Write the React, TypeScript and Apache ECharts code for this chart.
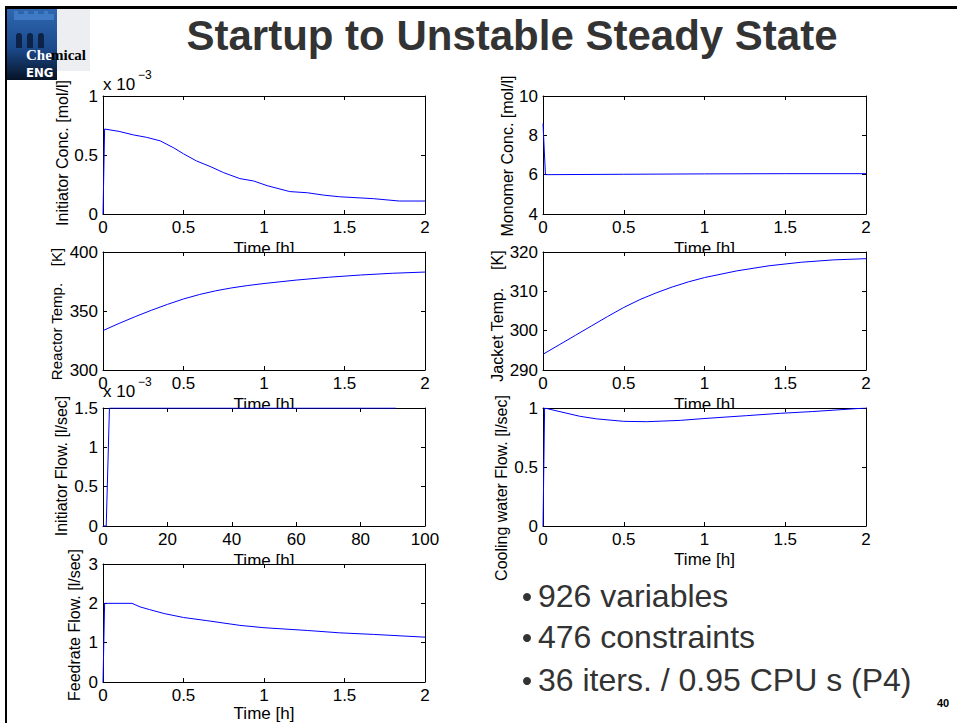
import React, { useEffect, useRef } from "react";
import * as echarts from "echarts";

const FONT = '"Liberation Sans", Arial, Helvetica, sans-serif';
const SERIF = '"Liberation Serif", "DejaVu Serif", serif';
const LINE = "#0000ff";

// ---- data ----
// Panel 1: Initiator Conc. [mol/l] (x 10^-3)
const initConcTime = [0, 0.01, 0.1, 0.19, 0.27, 0.355, 0.44, 0.5, 0.58, 0.67, 0.75, 0.85, 0.935, 1.02, 1.16, 1.27, 1.37, 1.47, 1.68, 1.84, 2.0];
const initConcValues = [0, 0.72, 0.7, 0.67, 0.65, 0.62, 0.56, 0.51, 0.45, 0.4, 0.35, 0.3, 0.28, 0.24, 0.19, 0.18, 0.16, 0.146, 0.13, 0.11, 0.11];

// Panel 2: Monomer Conc. [mol/l]
const monoTime = [0, 0.015, 0.5, 1.0, 1.5, 2.0];
const monoValues = [8.6, 6.0, 6.02, 6.04, 6.05, 6.05];

// Panel 3: Reactor Temp. [K]
const reactorTime = [0, 0.1, 0.2, 0.3, 0.4, 0.5, 0.6, 0.7, 0.8, 0.9, 1.0, 1.2, 1.4, 1.6, 1.8, 2.0];
const reactorValues = [333.4, 339.5, 345.2, 350.6, 355.6, 360.2, 364.0, 367.1, 369.6, 371.6, 373.3, 376.2, 378.6, 380.5, 382.0, 383.0];

// Panel 4: Jacket Temp. [K]
const jacketTime = [0, 0.1, 0.2, 0.3, 0.4, 0.5, 0.6, 0.7, 0.8, 0.9, 1.0, 1.2, 1.4, 1.6, 1.8, 2.0];
const jacketValues = [294.0, 296.4, 298.8, 301.2, 303.6, 305.9, 307.9, 309.6, 311.1, 312.4, 313.5, 315.2, 316.5, 317.4, 318.0, 318.3];

// Panel 5: Initiator Flow. [l/sec] (x 10^-3)
const initFlowTime = [0, 1, 2, 91];
const initFlowValues = [0, 0, 1.5, 1.5];

// Panel 6: Cooling water Flow. [l/sec]
const coolTime = [0, 0.01, 0.124, 0.227, 0.33, 0.5, 0.64, 0.85, 0.99, 1.26, 1.47, 1.67, 2.0];
const coolValues = [0, 1.0, 0.963, 0.93, 0.908, 0.887, 0.884, 0.895, 0.91, 0.935, 0.955, 0.97, 1.0];

// Panel 7: Feedrate Flow. [l/sec]
const feedTime = [0, 0.01, 0.18, 0.23, 0.29, 0.38, 0.5, 0.645, 0.85, 1.0, 1.27, 1.47, 1.68, 2.0];
const feedValues = [0, 2.0, 2.0, 1.91, 1.84, 1.74, 1.64, 1.56, 1.44, 1.38, 1.31, 1.25, 1.21, 1.14];

// axis ranges [min, max, interval]
const timeAxis = [0, 2, 0.5];
const initFlowTimeAxis = [0, 100, 20];
const initConcAxis = [0, 1, 0.5];
const monoAxis = [4, 10, 2];
const reactorAxis = [300, 400, 50];
const jacketAxis = [290, 320, 10];
const initFlowAxis = [0, 1.5, 0.5];
const coolAxis = [0, 1, 0.5];
const feedAxis = [0, 3, 1];

const bullets = ["926 variables", "476 constraints", "36 iters. / 0.95 CPU s (P4)"];
const title = "Startup to Unstable Steady State";
const xName = "Time [h]";

const zip = (xs: number[], ys: number[]) => xs.map((x, i) => [x, ys[i]]);

type Panel = {
  left: number; top: number; width: number; height: number;
  x: number[]; y: number[]; data: number[][];
  yLabel: string; yLabelX: number; yLabelY: number; yLabelSize: number;
  exp?: { x: number; y: number };
  clip: boolean;
  nameGap: number;
};

const LX = 103, RX = 543, LW = 322, RW = 323, H = 118;
const panels: Panel[] = [
  { left: LX, top: 96, width: LW, height: H, x: timeAxis, y: initConcAxis, data: zip(initConcTime, initConcValues), yLabel: "Initiator Conc. [mol/l]", yLabelX: 62, yLabelY: 153, yLabelSize: 16, exp: { x: 103, y: 84 }, clip: false, nameGap: 34 },
  { left: RX, top: 96, width: RW, height: H, x: timeAxis, y: monoAxis, data: zip(monoTime, monoValues), yLabel: "Monomer Conc. [mol/l]", yLabelX: 507, yLabelY: 156, yLabelSize: 16, clip: false, nameGap: 34 },
  { left: LX, top: 252, width: LW, height: H, x: timeAxis, y: reactorAxis, data: zip(reactorTime, reactorValues), yLabel: "Reactor Temp.    [K]", yLabelX: 56, yLabelY: 314, yLabelSize: 15, clip: true, nameGap: 34 },
  { left: RX, top: 252, width: RW, height: H, x: timeAxis, y: jacketAxis, data: zip(jacketTime, jacketValues), yLabel: "Jacket Temp.    [K]", yLabelX: 497, yLabelY: 316, yLabelSize: 16, clip: true, nameGap: 34 },
  { left: LX, top: 408, width: LW, height: H, x: initFlowTimeAxis, y: initFlowAxis, data: zip(initFlowTime, initFlowValues), yLabel: "Initiator Flow. [l/sec]", yLabelX: 61, yLabelY: 466, yLabelSize: 16, exp: { x: 103, y: 391 }, clip: true, nameGap: 34 },
  { left: RX, top: 408, width: RW, height: H, x: timeAxis, y: coolAxis, data: zip(coolTime, coolValues), yLabel: "Cooling water Flow. [l/sec]", yLabelX: 501, yLabelY: 488, yLabelSize: 16, clip: true, nameGap: 33 },
  { left: LX, top: 564, width: LW, height: H, x: timeAxis, y: feedAxis, data: zip(feedTime, feedValues), yLabel: "Feedrate Flow. [l/sec]", yLabelX: 74, yLabelY: 625, yLabelSize: 16, clip: true, nameGap: 31 },
];

function buildOption() {
  const grid: any[] = [];
  const xAxis: any[] = [];
  const yAxis: any[] = [];
  const series: any[] = [];
  const labels: any[] = [];
  const under: any[] = [];

  const axLine = { show: true, onZero: false, lineStyle: { color: "#000", width: 1 } };
  const axTick = { show: true, inside: true, length: 4, lineStyle: { color: "#000", width: 1 } };
  const axLabel = { color: "#000", fontSize: 17, fontFamily: FONT, margin: 5 };

  panels.forEach((p, i) => {
    grid.push({ left: p.left, top: p.top, width: p.width, height: p.height, containLabel: false });
    const xb = { gridIndex: i, type: "value", min: p.x[0], max: p.x[1], interval: p.x[2], splitLine: { show: false }, axisLine: axLine, axisTick: axTick };
    xAxis.push({ ...xb, position: "bottom", axisLabel: axLabel });
    xAxis.push({ ...xb, position: "top", axisLabel: { show: false } });
    const yb = { gridIndex: i, type: "value", min: p.y[0], max: p.y[1], interval: p.y[2], splitLine: { show: false }, axisLine: axLine, axisTick: axTick };
    yAxis.push({ ...yb, position: "left", axisLabel: axLabel });
    yAxis.push({ ...yb, position: "right", axisLabel: { show: false } });
    series.push({
      type: "line", xAxisIndex: 2 * i, yAxisIndex: 2 * i, data: p.data,
      showSymbol: false, symbol: "none", clip: true, silent: true,
      lineStyle: { color: LINE, width: 1 },
    });

    // x-axis name (can be partly hidden by the plot area below)
    under.push({
      type: "text", z: -2,
      x: p.left + p.width / 2, y: p.top + p.height + p.nameGap,
      style: { text: xName, fill: "#000", fontSize: 17, fontFamily: FONT, align: "center", verticalAlign: "middle", textAlign: "center", textVerticalAlign: "middle" },
    });
    if (p.clip) {
      under.push({ type: "rect", z: -1, shape: { x: p.left, y: p.top, width: p.width, height: p.height }, style: { fill: "#fff" } });
    }
    labels.push({
      type: "text", x: p.yLabelX, y: p.yLabelY, rotation: Math.PI / 2,
      style: { text: p.yLabel, fill: "#000", fontSize: p.yLabelSize, fontFamily: FONT, align: "center", verticalAlign: "middle", textAlign: "center", textVerticalAlign: "middle" },
    });
    if (p.exp) {
      labels.push({ type: "text", x: p.exp.x, y: p.exp.y, style: { text: "x 10", fill: "#000", fontSize: 17, fontFamily: FONT, align: "left", verticalAlign: "middle", textAlign: "left", textVerticalAlign: "middle" } });
      labels.push({ type: "text", x: p.exp.x + 35, y: p.exp.y - 9, style: { text: "\u22123", fill: "#000", fontSize: 12, fontFamily: FONT, align: "left", verticalAlign: "middle", textAlign: "left", textVerticalAlign: "middle" } });
    }
  });

  const logo = {
    type: "group",
    children: [
      { type: "rect", shape: { x: 57, y: 9, width: 33, height: 62 }, style: { fill: "#eceef1" } },
      {
        type: "rect", shape: { x: 7, y: 9, width: 50, height: 71 },
        style: { fill: new echarts.graphic.LinearGradient(0, 0, 0, 1, [{ offset: 0, color: "#2f67b0" }, { offset: 0.55, color: "#1b4a8c" }, { offset: 1, color: "#061326" }]) },
      },
      { type: "rect", shape: { x: 14, y: 14, width: 40, height: 6 }, style: { fill: "#3f7ac4" } },
      { type: "rect", shape: { x: 14, y: 11, width: 4, height: 4 }, style: { fill: "#3f7ac4" } },
      { type: "rect", shape: { x: 24, y: 11, width: 4, height: 4 }, style: { fill: "#3f7ac4" } },
      { type: "rect", shape: { x: 34, y: 11, width: 4, height: 4 }, style: { fill: "#3f7ac4" } },
      { type: "rect", shape: { x: 44, y: 11, width: 4, height: 4 }, style: { fill: "#3f7ac4" } },
      { type: "rect", shape: { x: 16, y: 33, width: 6, height: 15, r: [3, 3, 0, 0] }, style: { fill: "#0c2247" } },
      { type: "rect", shape: { x: 27, y: 33, width: 6, height: 15, r: [3, 3, 0, 0] }, style: { fill: "#0c2247" } },
      { type: "rect", shape: { x: 38, y: 33, width: 6, height: 15, r: [3, 3, 0, 0] }, style: { fill: "#0c2247" } },
      { type: "text", x: 26, y: 62, style: { text: "Che", fill: "#fff", fontSize: 15, fontWeight: "bold", fontFamily: SERIF, align: "left", verticalAlign: "bottom", textAlign: "left", textVerticalAlign: "bottom" } },
      { type: "text", x: 51, y: 62, style: { text: "mical", fill: "#000", fontSize: 15, fontWeight: "bold", fontFamily: SERIF, align: "left", verticalAlign: "bottom", textAlign: "left", textVerticalAlign: "bottom" } },
      { type: "text", x: 26, y: 72, style: { text: "ENG", fill: "#fff", fontSize: 13, fontWeight: "bold", fontFamily: '"Liberation Sans Narrow", "DejaVu Sans Condensed", sans-serif', align: "left", verticalAlign: "middle", textAlign: "left", textVerticalAlign: "middle" } },
    ],
  };

  const frame = [
    { type: "rect", shape: { x: 5, y: 6, width: 952, height: 3 }, style: { fill: "#000" } },
    { type: "rect", shape: { x: 5, y: 6, width: 2, height: 717 }, style: { fill: "#000" } },
  ];

  const titleEl = {
    type: "text", x: 512, y: 35,
    style: { text: title, fill: "#333", fontSize: 42, fontWeight: "bold", fontFamily: FONT, align: "center", verticalAlign: "middle", textAlign: "center", textVerticalAlign: "middle" },
  };

  const bulletEls: any[] = [];
  const bulletY = [596, 637, 680];
  bullets.forEach((b, i) => {
    bulletEls.push({ type: "circle", shape: { cx: 527, cy: bulletY[i] + 1, r: 4 }, style: { fill: "#333" } });
    bulletEls.push({ type: "text", x: 538, y: bulletY[i], style: { text: b, fill: "#333", fontSize: 32, fontFamily: FONT, align: "left", verticalAlign: "middle", textAlign: "left", textVerticalAlign: "middle" } });
  });

  const pageNo = { type: "text", x: 943, y: 703, style: { text: "40", fill: "#000", fontSize: 11, fontWeight: "bold", fontFamily: FONT, align: "center", verticalAlign: "middle", textAlign: "center", textVerticalAlign: "middle" } };

  return {
    animation: false,
    backgroundColor: "#fff",
    grid, xAxis, yAxis, series,
    graphic: { elements: [...under, ...frame, logo, titleEl, ...labels, ...bulletEls, pageNo] },
  };
}

export default function App() {
  const ref = useRef<HTMLDivElement>(null);
  useEffect(() => {
    if (!ref.current) return;
    const chart = echarts.init(ref.current, undefined, { renderer: "svg", width: 957, height: 723 });
    chart.setOption(buildOption() as any);
    return () => chart.dispose();
  }, []);
  return <div ref={ref} style={{ position: "fixed", left: 0, top: 0, width: 957, height: 723, background: "#fff" }} />;
}
